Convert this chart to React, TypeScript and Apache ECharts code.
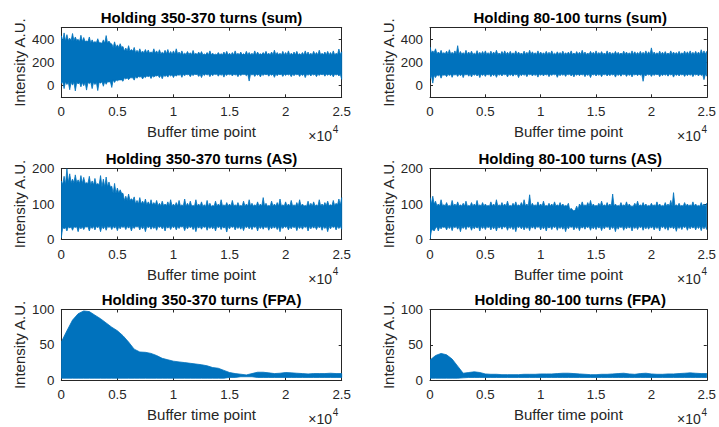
import React, { useEffect, useRef } from "react";
import * as echarts from "echarts";

// ---- data ----
// HI / LO: max and min of the signal in each 250-point (noisy plots) or 500-point (FPA) slice.
// CORE_HI / CORE_LO: edges of the solid part of the band, every 1000 points.
const TITLES = [
  "Holding 350-370 turns (sum)",
  "Holding 80-100 turns (sum)",
  "Holding 350-370 turns (AS)",
  "Holding 80-100 turns (AS)",
  "Holding 350-370 turns (FPA)",
  "Holding 80-100 turns (FPA)",
];
const X_TICKS = [0, 5000, 10000, 15000, 20000, 25000];
const Y_TICKS_SUM = [0, 200, 400];
const Y_TICKS_AS = [0, 100, 200];
const Y_TICKS_FPA = [0, 50, 100];

const STEP_NOISY = 250;
const STEP_FPA = 500;
const STEP_CORE = 1000;

const SUM_L_HI = [
  430, 455, 440, 410, 450, 420, 400, 435, 415, 385, 420, 395, 380, 405, 370, 395, 432, 385, 360, 378, 352,
  362, 338, 325, 345, 312, 330, 305, 318, 298, 312, 308, 292, 318, 300, 310, 288, 305, 312, 295, 300,
  318, 290, 300, 280, 295, 284, 304, 280, 290, 294, 274, 286, 300, 280, 272, 286, 276, 290, 296, 280,
  286, 300, 280, 290, 276, 296, 286, 280, 300, 290, 276, 286, 296, 280, 290, 306, 286, 280, 296, 286,
  300, 280, 290, 296, 276, 286, 300, 290, 280, 296, 286, 306, 280, 290, 296, 286, 300, 280, 316, 292,
];
const SUM_L_LO = [
  20, -25, 10, -35, 5, -45, 15, -10, 0, -38, 18, -25, 10, -42, 22, -5, 12, 32, -15, 28, 42,
  50, 38, 58, 52, 68, 48, 64, 74, 58, 70, 78, 62, 74, 84, 70, 60, 80, 74, 84, 70,
  82, 90, 72, 86, 94, 78, 88, 96, 80, 70, 88, 92, 78, 86, 96, 82, 90, 74, 88, 94,
  84, 92, 78, 88, 96, 86, 40, 92, 80, 90, 76, 88, 94, 82, 90, 72, 86, 94, 80, 88,
  92, 78, 86, 94, 80, 88, 70, 90, 84, 92, 78, 88, 94, 82, 90, 86, 76, 92, 84, 55,
];
const SUM_L_CORE_HI = [385, 390, 380, 370, 365, 330, 298, 285, 280, 276, 272, 270, 268, 266, 266, 265, 266, 265, 268, 266, 265, 266, 265, 266, 265, 268];
const SUM_L_CORE_LO = [35, 30, 28, 30, 35, 50, 68, 80, 85, 90, 95, 98, 98, 100, 100, 100, 98, 100, 100, 100, 100, 100, 100, 100, 100, 98];

const SUM_R_HI = [
  333, 300, 318, 290, 305, 285, 298, 310, 288, 300, 345, 295, 285, 305, 290, 298, 280, 302, 288, 295, 300,
  285, 298, 290, 305, 282, 295, 300, 288, 296, 284, 300, 290, 282, 298, 288, 305, 292, 284, 300, 290,
  284, 296, 288, 300, 280, 292, 286, 298, 284, 290, 300, 282, 294, 288, 305, 290, 282, 296, 288, 300,
  286, 294, 282, 300, 290, 284, 296, 288, 282, 298, 290, 284, 300, 292, 286, 296, 288, 300, 292, 326,
  290, 284, 298, 288, 294, 282, 300, 290, 286, 296, 284, 298, 292, 300, 288, 296, 290, 310, 300, 296,
];
const SUM_R_LO = [
  60, 22, 70, 85, 65, 90, 78, 88, 72, 92, 80, 86, 70, 92, 82, 76, 90, 84, 70, 88, 80,
  92, 78, 86, 72, 90, 84, 94, 76, 88, 82, 92, 70, 86, 90, 78, 94, 84, 88, 74, 90,
  84, 92, 78, 88, 94, 72, 86, 90, 80, 94, 84, 76, 90, 86, 92, 78, 88, 70, 92, 84,
  90, 78, 94, 84, 86, 92, 74, 88, 82, 94, 80, 88, 76, 92, 86, 90, 38, 84, 92, 80,
  88, 94, 78, 86, 90, 82, 92, 74, 88, 84, 92, 80, 86, 90, 78, 92, 84, 88, 52, 82,
];
const SUM_R_CORE_HI = [285, 275, 272, 270, 270, 270, 270, 270, 270, 270, 270, 270, 270, 268, 270, 270, 270, 270, 270, 270, 270, 270, 270, 270, 270, 272];
const SUM_R_CORE_LO = [90, 95, 98, 100, 100, 100, 100, 100, 100, 100, 100, 100, 100, 100, 100, 100, 100, 100, 100, 100, 100, 100, 100, 100, 100, 98];

const AS_L_HI = [
  165, 178, 200, 185, 170, 182, 168, 180, 175, 160, 178, 165, 172, 158, 180, 170, 176, 162, 150, 158, 145,
  140, 130, 122, 128, 115, 120, 110, 118, 108, 114, 106, 112, 104, 110, 102, 108, 100, 106, 112, 100,
  104, 110, 98, 114, 102, 108, 96, 112, 100, 106, 98, 110, 102, 96, 108, 100, 112, 98, 104, 100,
  110, 98, 104, 96, 108, 100, 112, 102, 98, 106, 100, 118, 102, 96, 108, 100, 104, 114, 98, 106,
  100, 110, 98, 104, 112, 100, 96, 108, 102, 106, 98, 112, 100, 104, 108, 98, 110, 102, 114, 118,
];
const AS_L_LO = [
  5, 30, 24, 32, 26, 34, 22, 30, 28, 35, 24, 31, 27, 33, 22, 30, 26, 34, 28, 32, 25,
  30, 34, 28, 32, 24, 31, 35, 27, 30, 22, 33, 29, 31, 26, 34, 30, 24, 32, 28, 33,
  27, 31, 35, 25, 30, 33, 28, 22, 32, 29, 34, 26, 31, 30, 24, 33, 28, 32, 21, 30,
  34, 27, 31, 29, 25, 33, 30, 28, 34, 24, 31, 29, 33, 26, 30, 32, 28, 22, 31, 34,
  27, 30, 33, 25, 31, 29, 34, 24, 30, 32, 28, 33, 26, 31, 22, 30, 34, 27, 31, 29,
];
const AS_L_CORE_HI = [155, 160, 158, 154, 148, 130, 110, 100, 97, 95, 94, 94, 94, 93, 94, 94, 94, 94, 94, 94, 94, 94, 94, 94, 95, 97];
const AS_L_CORE_LO = [34, 36, 36, 37, 37, 37, 37, 37, 37, 37, 37, 37, 37, 37, 37, 37, 37, 37, 37, 37, 37, 37, 37, 37, 37, 37];

const AS_R_HI = [
  118, 122, 108, 100, 112, 98, 104, 96, 110, 100, 106, 98, 102, 108, 96, 104, 100, 110, 98, 104, 100,
  96, 106, 100, 112, 98, 104, 100, 108, 96, 102, 106, 98, 104, 112, 100, 126, 102, 98, 106, 100,
  108, 96, 102, 100, 106, 98, 104, 100, 96, 102, 88, 80, 94, 100, 106, 98, 104, 110, 100, 96,
  102, 108, 98, 104, 100, 128, 100, 96, 104, 98, 106, 100, 94, 102, 108, 98, 104, 100, 96, 102,
  98, 106, 100, 96, 104, 100, 110, 132, 98, 102, 96, 104, 100, 98, 106, 100, 96, 104, 100, 102,
];
const AS_R_LO = [
  2, 28, 32, 24, 30, 34, 27, 31, 25, 33, 29, 22, 31, 28, 34, 26, 30, 32, 24, 31, 28,
  33, 27, 30, 24, 32, 29, 34, 26, 31, 28, 22, 33, 30, 27, 31, 25, 32, 29, 34, 27,
  30, 24, 32, 28, 33, 26, 31, 29, 22, 30, 34, 27, 31, 25, 32, 29, 33, 26, 30, 28,
  32, 25, 30, 34, 27, 31, 22, 29, 33, 26, 30, 32, 24, 31, 28, 33, 26, 30, 29, 32,
  27, 31, 24, 33, 29, 26, 32, 30, 23, 31, 28, 33, 26, 30, 32, 27, 31, 25, 30, 28,
];
const AS_R_CORE_HI = [100, 95, 94, 94, 94, 94, 94, 94, 94, 94, 94, 94, 94, 84, 94, 94, 94, 94, 94, 94, 94, 94, 94, 94, 94, 94];
const AS_R_CORE_LO = [24, 36, 37, 37, 37, 37, 37, 37, 37, 37, 37, 37, 37, 37, 37, 37, 37, 37, 37, 37, 37, 37, 37, 37, 37, 37];

const FPA_L_HI = [
  54, 70, 85, 94, 98, 97, 92, 87, 81, 75, 70, 63, 54, 44, 40, 39.5, 38, 35, 31, 29,
  27, 26, 25, 24, 23, 22, 20.5, 18, 17, 14, 11, 9.5, 8.6, 7.6, 9.5, 11.4, 11.4, 10.5, 9.5, 10,
  11, 10.5, 10, 9.5, 9, 9.5, 9.5, 9.5, 10, 9.5, 9.5,
];
const FPA_L_LO = [
  3, 3, 3, 3, 3, 3, 3, 3, 3, 3, 3, 3, 3, 3, 3, 3, 3, 3, 3, 3,
  3, 3, 3, 3, 3, 3, 3, 3, 3, 3, 4, 4, 5, 5, 5, 4, 4, 4, 4, 4,
  4, 4, 4, 4, 4, 4, 4, 4, 4, 4, 4,
];
const FPA_R_HI = [
  28.5, 35, 38, 36, 30, 20, 10, 11, 12, 11, 9, 8.5, 8.5, 8, 8, 8, 8, 8.5, 8.5, 8.5,
  9, 9, 9, 9.5, 10, 10, 9.5, 9, 8.5, 8, 8, 8.5, 8.5, 9, 9.5, 10, 9, 8.5, 9.5, 10,
  9, 8.5, 8.5, 9, 9, 9.5, 10, 10.5, 10, 9.5, 9.5,
];
const FPA_R_LO = [
  3, 3, 3, 3, 3, 3, 3.5, 4, 4, 4, 4, 4, 4, 4, 4, 4, 4, 4, 4, 4,
  4, 4, 4, 4, 4, 4, 4, 4, 4, 4, 4, 4, 4, 4, 4, 4, 4, 4, 4, 4,
  4, 4, 4, 4, 4, 4, 4, 4, 4, 4, 4,
];

// ---- layout / style ----
const BLUE = "#0072BD";
const AX = "#262626";
const FONT = "'Liberation Sans', Arial, Helvetica, sans-serif";
const COL_LEFT = [61.3, 430];
const PLOT_W = 280.4;
const ROW_TOP = [27.7, 168.5, 309.5];
const ROW_H = [69.6, 71, 70.8];

type Plot = {
  hi: number[];
  lo: number[];
  step: number;
  coreHi?: number[];
  coreLo?: number[];
  ymin: number;
  ymax: number;
  yt: number[];
};

const PLOTS: Plot[] = [
  { hi: SUM_L_HI, lo: SUM_L_LO, step: STEP_NOISY, coreHi: SUM_L_CORE_HI, coreLo: SUM_L_CORE_LO, ymin: -100, ymax: 500, yt: Y_TICKS_SUM },
  { hi: SUM_R_HI, lo: SUM_R_LO, step: STEP_NOISY, coreHi: SUM_R_CORE_HI, coreLo: SUM_R_CORE_LO, ymin: -100, ymax: 500, yt: Y_TICKS_SUM },
  { hi: AS_L_HI, lo: AS_L_LO, step: STEP_NOISY, coreHi: AS_L_CORE_HI, coreLo: AS_L_CORE_LO, ymin: 0, ymax: 200, yt: Y_TICKS_AS },
  { hi: AS_R_HI, lo: AS_R_LO, step: STEP_NOISY, coreHi: AS_R_CORE_HI, coreLo: AS_R_CORE_LO, ymin: 0, ymax: 200, yt: Y_TICKS_AS },
  { hi: FPA_L_HI, lo: FPA_L_LO, step: STEP_FPA, ymin: 0, ymax: 100, yt: Y_TICKS_FPA },
  { hi: FPA_R_HI, lo: FPA_R_LO, step: STEP_FPA, ymin: 0, ymax: 100, yt: Y_TICKS_FPA },
];

function buildOption() {
  const grid: any[] = [];
  const xAxis: any[] = [];
  const yAxis: any[] = [];
  const series: any[] = [];
  const graphic: any[] = [];

  PLOTS.forEach((p, k) => {
    const r = Math.floor(k / 2);
    const c = k % 2;
    const left = COL_LEFT[c];
    const top = ROW_TOP[r];
    const h = ROW_H[r];
    grid.push({ left, top, width: PLOT_W, height: h, containLabel: false });

    const xBase = {
      gridIndex: k,
      type: "value",
      min: 0,
      max: 25000,
      splitLine: { show: false },
      axisLine: { show: true, onZero: false, lineStyle: { color: AX, width: 1 } },
      axisTick: { show: true, inside: true, length: 3, lineStyle: { color: AX }, customValues: X_TICKS },
    };
    xAxis.push({
      ...xBase,
      position: "bottom",
      name: "Buffer time point",
      nameLocation: "middle",
      nameGap: 27,
      nameTextStyle: { fontFamily: FONT, fontSize: 15, color: AX },
      axisLabel: {
        show: true,
        customValues: X_TICKS,
        margin: 8,
        fontFamily: FONT,
        fontSize: 13.3,
        color: AX,
        formatter: (v: number) => String(v / 10000),
      },
    });
    xAxis.push({ ...xBase, position: "top", axisLabel: { show: false } });

    const yBase = {
      gridIndex: k,
      type: "value",
      min: p.ymin,
      max: p.ymax,
      splitLine: { show: false },
      axisLine: { show: true, onZero: false, lineStyle: { color: AX, width: 1 } },
      axisTick: { show: true, inside: true, length: 3, lineStyle: { color: AX }, customValues: p.yt },
    };
    yAxis.push({
      ...yBase,
      position: "left",
      name: "Intensity A.U.",
      nameLocation: "middle",
      nameGap: 34,
      nameTextStyle: { fontFamily: FONT, fontSize: 15, color: AX },
      axisLabel: { show: true, customValues: p.yt, margin: 7, fontFamily: FONT, fontSize: 13.3, color: AX },
    });
    yAxis.push({ ...yBase, position: "right", axisLabel: { show: false } });

    const { hi, lo, step, coreHi, coreLo } = p;
    series.push({
      type: "custom",
      xAxisIndex: 2 * k,
      yAxisIndex: 2 * k,
      data: [[0, 0]],
      clip: true,
      silent: true,
      renderItem: (_params: any, api: any) => {
        const pts: number[][] = [];
        const n = hi.length;
        if (coreHi && coreLo) {
          // saw-tooth band: slice max/min at each slice, solid-core edge between them
          const coreAt = (arr: number[], x: number) => arr[Math.min(arr.length - 1, Math.round(x / STEP_CORE))];
          for (let i = 0; i < n; i++) {
            pts.push(api.coord([i * step, hi[i]]));
            if (i < n - 1) {
              const xm = i * step + step / 2;
              pts.push(api.coord([xm, coreAt(coreHi, xm)]));
            }
          }
          for (let i = n - 1; i >= 0; i--) {
            pts.push(api.coord([i * step, lo[i]]));
            if (i > 0) {
              const xm = i * step - step / 2;
              pts.push(api.coord([xm, coreAt(coreLo, xm)]));
            }
          }
        } else {
          for (let i = 0; i < n; i++) pts.push(api.coord([i * step, hi[i]]));
          for (let i = n - 1; i >= 0; i--) pts.push(api.coord([i * step, lo[i]]));
        }
        return {
          type: "polygon",
          shape: { points: pts },
          style: { fill: BLUE, stroke: BLUE, lineWidth: 0.8, lineJoin: "miter" },
        };
      },
    });

    // title
    graphic.push({
      type: "text",
      x: left + PLOT_W / 2,
      y: top - 18,
      silent: true,
      style: {
        text: TITLES[k],
        align: "center",
        verticalAlign: "top",
        font: `bold 15px ${FONT}`,
        fill: "#000",
      },
    });
    // x10^4 exponent label
    const bottom = top + h;
    graphic.push({
      type: "text",
      x: left + 247,
      y: bottom + 39,
      silent: true,
      style: { text: "×10", align: "left", verticalAlign: "middle", font: `14px ${FONT}`, fill: AX },
    });
    graphic.push({
      type: "text",
      x: left + 271.5,
      y: bottom + 32,
      silent: true,
      style: { text: "4", align: "left", verticalAlign: "middle", font: `10px ${FONT}`, fill: AX },
    });
  });

  return {
    animation: false,
    backgroundColor: "#ffffff",
    grid,
    xAxis,
    yAxis,
    series,
    graphic,
  };
}

export default function App() {
  const ref = useRef<HTMLDivElement>(null);
  useEffect(() => {
    if (!ref.current) return;
    const chart = echarts.init(ref.current, undefined, { renderer: "svg" });
    chart.setOption(buildOption() as any);
    return () => chart.dispose();
  }, []);
  return (
    <div
      ref={ref}
      style={{ position: "absolute", left: 0, top: 0, width: 719, height: 427, background: "#fff" }}
    />
  );
}
